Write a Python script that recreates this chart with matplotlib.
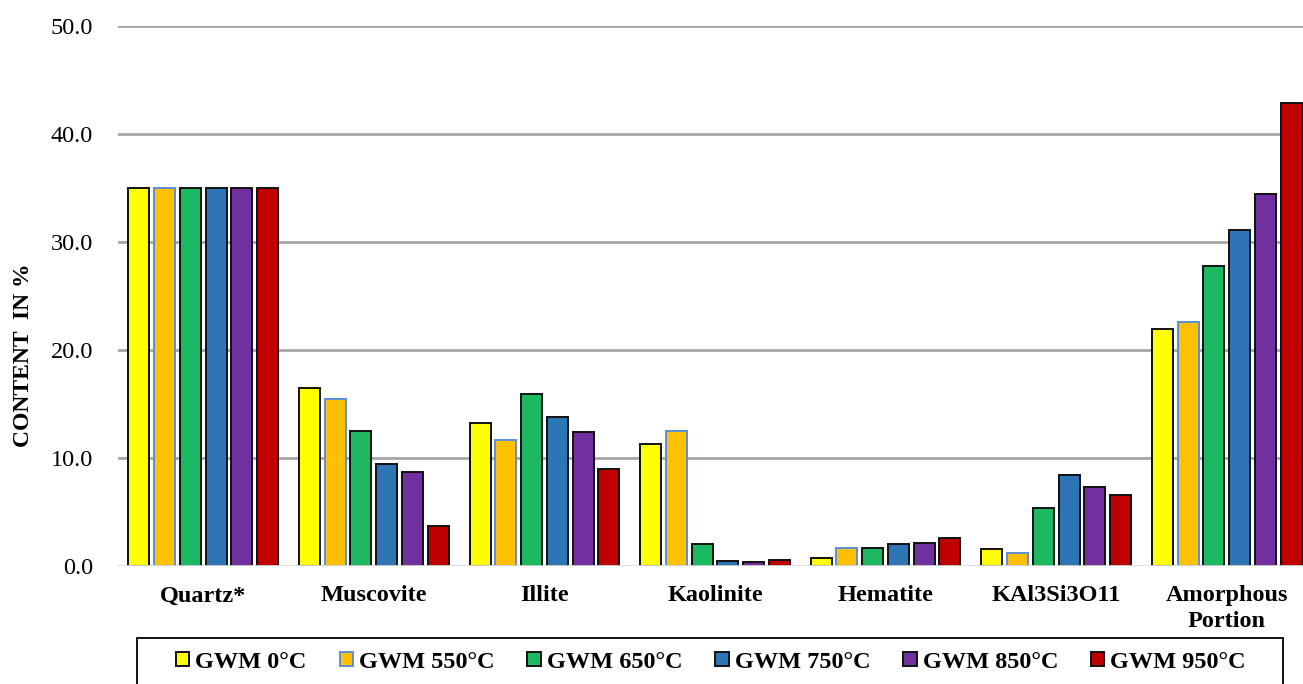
import numpy as np
import matplotlib
matplotlib.use("Agg")
import matplotlib.pyplot as plt
from matplotlib.patches import Rectangle

# Mineral phase content of GWM samples at different firing temperatures
minerals = ["Quartz*", "Muscovite", "Illite", "Kaolinite", "Hematite",
            "KAl3Si3O11", "Amorphous\nPortion"]
series_names = ["GWM 0°C", "GWM 550°C", "GWM 650°C",
                "GWM 750°C", "GWM 850°C", "GWM 950°C"]

gwm_0 = [35.0, 16.5, 13.2, 11.3, 0.7, 1.6, 21.9]
gwm_550 = [35.0, 15.5, 11.7, 12.5, 1.7, 1.2, 22.6]
gwm_650 = [35.0, 12.5, 15.9, 2.0, 1.7, 5.4, 27.8]
gwm_750 = [35.0, 9.4, 13.8, 0.5, 2.0, 8.4, 31.1]
gwm_850 = [35.0, 8.7, 12.4, 0.4, 2.15, 7.3, 34.4]
gwm_950 = [35.0, 3.7, 8.95, 0.6, 2.6, 6.6, 42.9]

yticks = [0.0, 10.0, 20.0, 30.0, 40.0, 50.0]

series = [gwm_0, gwm_550, gwm_650, gwm_750, gwm_850, gwm_950]
fills = ["#FFFF00", "#FFC000", "#1DB862", "#2E75B6", "#7030A0", "#C00000"]
edges = ["#111111", "#5B8FD6", "#111111", "#111111", "#111111", "#111111"]

W, H = 1303, 684
fig = plt.figure(figsize=(W / 100, H / 100), dpi=100)
ax = fig.add_axes([118 / W, 1 - 566 / H, (1312 - 118) / W, (566 - 26) / H])

x = np.arange(len(minerals))
bar_w = 0.123
step = 0.151
handles = []
for i, (vals, fc, ec, name) in enumerate(zip(series, fills, edges, series_names)):
    off = (i - 2.5) * step
    b = ax.bar(x + off, vals, width=bar_w, color=fc, edgecolor=ec,
               linewidth=1.4, label=name, zorder=3)
    handles.append(b)

ax.set_xlim(-0.5, len(minerals) - 0.5)
ax.set_ylim(0, 50)
ax.set_yticks(yticks)
ax.set_yticklabels([f"{v:.1f}" for v in yticks], family="Liberation Serif",
                   fontsize=17.5)
ax.set_xticks(x)
ax.set_xticklabels(minerals, family="Liberation Serif", fontsize=17.5,
                   fontweight="bold", linespacing=1.3, va="top")

for s in ax.spines.values():
    s.set_visible(False)
ax.tick_params(axis="both", length=0)
ax.tick_params(axis="y", pad=18)
ax.tick_params(axis="x", pad=14)

for v in yticks[1:]:
    ax.axhline(v, color="#A6A6A6", linewidth=2.0, zorder=1)
ax.axhline(0, color="#D9D9D9", linewidth=2.0, zorder=4)

fig.text(24 / W, 1 - 355 / H, "CONTENT  IN %", rotation=90, ha="center",
         va="center", family="Liberation Serif", fontsize=17,
         fontweight="bold")

# legend box drawn as its own frame, entries centred inside it
fig.patches.append(Rectangle((137 / W, -0.01), (1283 - 137) / W,
                             1 - 638 / H + 0.01, transform=fig.transFigure,
                             facecolor="white", edgecolor="black",
                             linewidth=1.3, zorder=0))
leg = fig.legend(handles=handles, labels=series_names, ncol=6,
                 loc="center", bbox_to_anchor=(711 / W, 1 - 662 / H),
                 bbox_transform=fig.transFigure,
                 prop={"family": "Liberation Serif", "size": 17.5,
                       "weight": "bold"},
                 handlelength=0.55, handleheight=0.55, handletextpad=0.25,
                 columnspacing=1.35, borderpad=0.2, frameon=False,
                 borderaxespad=0)

fig.savefig("out.png", dpi=100)
